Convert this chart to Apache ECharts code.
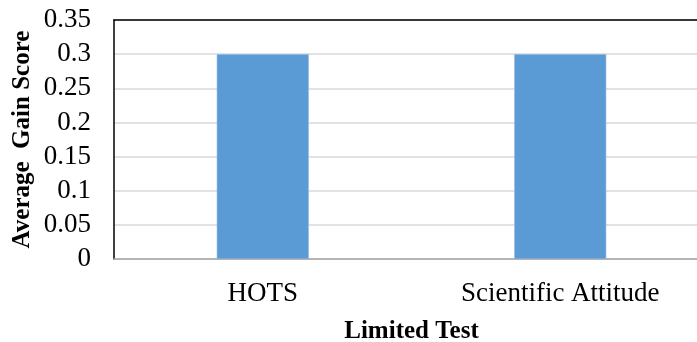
<!DOCTYPE html>
<html>
<head>
<meta charset="utf-8">
<style>
  html, body { margin: 0; padding: 0; background: #ffffff; overflow: hidden; }
  #chart { width: 697px; height: 342px; }
</style>
<script src="https://cdn.jsdelivr.net/npm/echarts@6/dist/echarts.min.js"></script>
</head>
<body>
<div id="chart"></div>
<script>
// Limited test results: average gain score per measured aspect
const categories = ['HOTS', 'Scientific Attitude'];
const gainScores = [0.3, 0.3];

const serif = '"Liberation Serif", "Times New Roman", serif';

const chart = echarts.init(document.getElementById('chart'), null, { renderer: 'canvas' });

chart.setOption({
  animation: false,
  backgroundColor: '#ffffff',
  // plot area runs slightly past the right edge of the canvas
  grid: {
    left: 114, top: 20, width: 595, bottom: 83,
    containLabel: false,
    outerBoundsMode: 'none'
  },
  xAxis: [
    {
      type: 'category',
      data: categories,
      position: 'bottom',
      name: 'Limited Test',
      nameLocation: 'middle',
      nameGap: 60,
      nameMoveOverlap: false,
      nameTextStyle: { fontFamily: serif, fontSize: 25, fontWeight: 'bold', color: '#000' },
      axisLine: { show: true, lineStyle: { color: '#A6A6A6', width: 1.5 } },
      axisTick: { show: false },
      axisLabel: { fontFamily: serif, fontSize: 27, color: '#000', margin: 21 },
      splitLine: { show: false }
    },
    {
      // top frame line of the plot
      type: 'category',
      data: categories,
      position: 'top',
      axisLine: { show: true, lineStyle: { color: '#000', width: 1.5 } },
      axisTick: { show: false },
      axisLabel: { show: false },
      splitLine: { show: false }
    }
  ],
  yAxis: {
    type: 'value',
    min: 0,
    max: 0.35,
    interval: 0.05,
    name: 'Average  Gain Score',
    nameLocation: 'middle',
    nameRotate: 90,
    nameGap: 79,
    nameMoveOverlap: false,
    nameTextStyle: { fontFamily: serif, fontSize: 25, fontWeight: 'bold', color: '#000' },
    axisLine: { show: true, lineStyle: { color: '#000', width: 1.5 } },
    axisTick: { show: false },
    axisLabel: { fontFamily: serif, fontSize: 27, color: '#000', margin: 23 },
    splitLine: { show: true, lineStyle: { color: '#D9D9D9', width: 1.5 } }
  },
  series: [
    {
      type: 'bar',
      data: gainScores,
      barWidth: 92,
      itemStyle: { color: '#5B9BD5', borderColor: '#8DB7E2', borderWidth: 0.6 }
    }
  ]
});
</script>
</body>
</html>
